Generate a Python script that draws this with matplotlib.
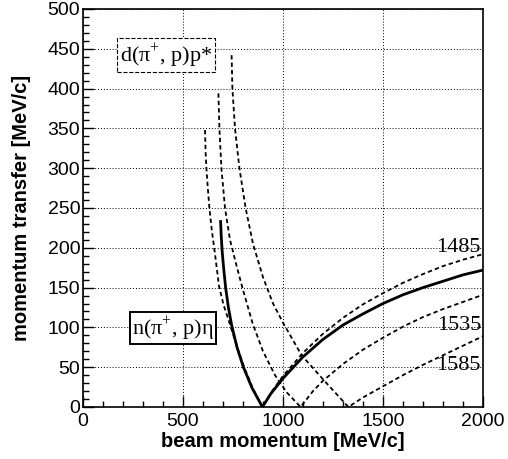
import matplotlib
matplotlib.use("Agg")
import matplotlib.pyplot as plt

plt.rcParams['font.family'] = ['Liberation Sans', 'DejaVu Sans']
plt.rcParams['mathtext.fontset'] = 'custom'
plt.rcParams['mathtext.rm'] = 'Liberation Serif'

# n(pi+, p)eta  (solid)
eta_p = [688, 691, 696, 703, 713, 727, 743, 770, 802, 845, 897,
         940, 1000, 1100, 1200, 1300, 1400, 1500, 1600, 1700, 1800, 1900, 2000]
eta_q = [233, 215, 195, 175, 150, 125, 103, 75, 50, 24, 0,
         17, 36, 63, 85, 103, 117, 130, 141, 150, 158, 166, 172]

# d(pi+, p)p*  M = 1485
m1485_p = [610, 613, 617, 624, 632, 645, 660, 680, 703, 727, 752, 778, 806, 848, 897,
           940, 1000, 1100, 1200, 1300, 1400, 1500, 1600, 1700, 1800, 1900, 2000]
m1485_q = [348, 320, 300, 275, 250, 220, 192, 152, 128, 110, 90, 70, 50, 24, 0,
           18, 39, 68, 92, 112, 129, 143, 156, 167, 177, 185, 192]

# M = 1535
m1535_p = [677, 682, 692, 710, 735, 765, 800, 848, 900, 960, 1020, 1088,
           1150, 1200, 1300, 1400, 1500, 1600, 1700, 1800, 1900, 2000]
m1535_q = [394, 350, 300, 250, 210, 180, 147, 105, 70, 40, 18, 0,
           20, 33, 54, 72, 87, 101, 113, 123, 132, 141]

# M = 1585
m1585_p = [743, 747, 760, 782, 813, 850, 900, 950, 1002, 1093, 1210, 1327,
           1400, 1500, 1600, 1700, 1800, 1900, 2000]
m1585_q = [442, 400, 350, 300, 250, 205, 163, 130, 105, 65, 32, 0,
           12, 26, 40, 53, 65, 77, 89]

mass_labels = ['1485', '1535', '1585']
label_q = [195, 97, 46]

fig = plt.figure(figsize=(5.08, 4.59), dpi=100)
ax = fig.add_axes([0.1634, 0.1133, 0.7874, 0.8671])

dash = (2.4, 1.7)
ax.plot(m1485_p, m1485_q, color='black', lw=1.3, dashes=dash, zorder=3)
ax.plot(m1535_p, m1535_q, color='black', lw=1.3, dashes=dash, zorder=3)
ax.plot(m1585_p, m1585_q, color='black', lw=1.3, dashes=dash, zorder=3)
ax.plot(eta_p, eta_q, color='black', lw=2.0, zorder=4)

for lab, q in zip(mass_labels, label_q):
    ax.text(1990, q, lab, ha='right', va='baseline', fontsize=16,
            family='Liberation Serif', zorder=5)

ax.text(415, 442, 'd(π$^{+}$, p)p*', ha='center', va='center', fontsize=16,
        family='Liberation Serif', zorder=6,
        bbox=dict(boxstyle='square,pad=0.14', fc='white', ec='black', ls='--', lw=0.8))
ax.text(450, 99, 'n(π$^{+}$, p)η', ha='center', va='center', fontsize=16,
        family='Liberation Serif', zorder=6,
        bbox=dict(boxstyle='square,pad=0.1', fc='white', ec='black', lw=1.4))

ax.set_xlim(0, 2000)
ax.set_ylim(0, 500)
ax.set_xticks([0, 500, 1000, 1500, 2000])
ax.set_xticks(range(0, 2001, 100), minor=True)
ax.set_yticks(range(0, 501, 50))
ax.set_yticks(range(0, 501, 10), minor=True)
ax.tick_params(which='both', direction='in', labelsize=14, width=1.0)
ax.tick_params(which='major', length=8)
ax.tick_params(which='minor', length=4)
ax.tick_params(axis='x', pad=4)
ax.tick_params(axis='y', pad=2)
ax.grid(True, which='major', color='black', lw=0.7, linestyle=(0, (1, 2)), zorder=1)
for s in ax.spines.values():
    s.set_linewidth(1.2)

ax.set_xlabel('beam momentum [MeV/c]', fontsize=14.5, fontweight='bold', labelpad=2)
ax.set_ylabel('momentum transfer [MeV/c]', fontsize=14.5, fontweight='bold', labelpad=12)

fig.savefig('out.png', dpi=100)
